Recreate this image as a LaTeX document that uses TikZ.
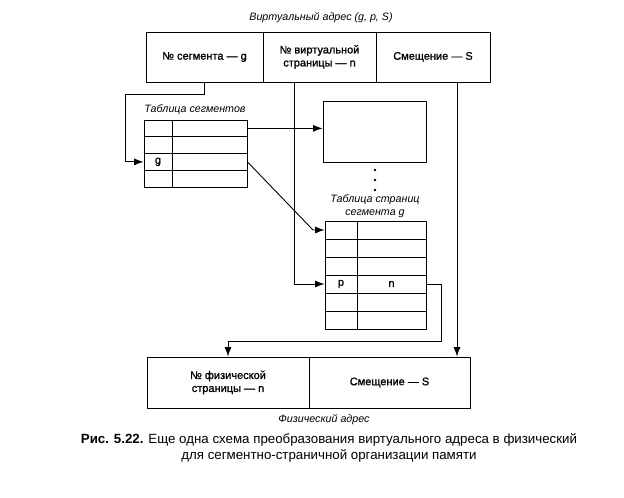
\documentclass[tikz,border=0pt]{standalone}
\usepackage{fontspec}
\setmainfont{Liberation Sans}
\newfontfamily\medfont{Liberation Sans}[FakeBold=1.2]
\usetikzlibrary{arrows.meta}
\begin{document}
\begin{tikzpicture}[x=1pt,y=-1pt, line width=0.9pt,
  conn/.style={draw, -{Latex[length=9.5pt,width=7pt]}},
  lbl/.style={font=\fontsize{10.7}{12.5}\selectfont\itshape, align=center},
  txt/.style={font=\medfont\fontsize{11}{13}\selectfont, align=center},
  field/.style={draw, txt, inner sep=0pt, minimum height=50pt},
  cell/.style={draw, inner sep=0pt, font=\medfont\fontsize{11}{13}\selectfont},
  scell/.style={cell, minimum height=16.75pt},
  pcell/.style={cell, minimum height=18pt},
  dot/.style={fill, circle, inner sep=0pt, minimum size=2.8pt}]
\useasboundingbox (0,0) rectangle (624,498);

% virtual address
\node[lbl] (vtitle) at (321,18) {Виртуальный адрес (g, p, S)};
\node[field, minimum width=117pt] (vg) at (204.5,57) {№ сегмента — g};
\node[field, minimum width=113pt] (vp) at (319.5,57) {№ виртуальной\\страницы — n};
\node[field, minimum width=114pt] (vs) at (433,57) {Смещение — S};

% segment table
\node[lbl] (stitle) at (195,110) {Таблица сегментов};
\foreach \i/\t in {1/,2/,3/g,4/} {
  \node[scell, minimum width=28pt] (s\i a) at (158,{120+(\i-0.5)*16.75}) {\t};
  \node[scell, minimum width=75pt] (s\i b) at (209.5,{120+(\i-0.5)*16.75}) {};
}

% other page table
\node[draw, minimum width=103pt, minimum height=61pt, inner sep=0pt] (ptab) at (374.5,131.5) {};
\node[dot] (d1) at (375,170) {};
\node[dot] (d2) at (375,180) {};
\node[dot] (d3) at (375,190) {};

% page table of segment g
\node[lbl] (ptitle) at (375,206) {Таблица страниц\\сегмента g};
\foreach \i/\ta/\tb in {1//,2//,3//,4/p/n,5//,6//} {
  \node[pcell, minimum width=32pt] (p\i a) at (341,{221+(\i-0.5)*18}) {\ta};
  \node[pcell, minimum width=69pt] (p\i b) at (391.5,{221+(\i-0.5)*18}) {\tb};
}

% physical address
\node[field, minimum width=162pt, minimum height=51pt] (pn) at (228,382.5) {№ физической\\страницы — n};
\node[field, minimum width=161pt, minimum height=51pt] (ps) at (389.5,382.5) {Смещение — S};
\node[lbl] (ftitle) at (324,420) {Физический адрес};

% connectors
\draw[conn] (vg.south) -- ++(0,12) -- ++(-79.5,0) |- (s3a.west);
\draw[conn] (s1b.east) -- (ptab.west |- s1b.east);
\coordinate (mid) at (313,230);
\draw[conn] (s3b.east) -- (mid) -- (p1a.west);
\coordinate (pstart) at (294,82);
\draw[conn] (pstart) |- (p4a.west);
\draw[conn] (p4b.east) -- ++(15,0) -- ++(0,57) -| (pn.north);
\coordinate (sstart) at (457,82);
\draw[conn] (sstart) -- (sstart |- ps.north);

% caption
\node[font=\fontsize{13.3}{16}\selectfont, align=center] (cap) at (329,448)
  {\textbf{Рис. 5.22.} Еще одна схема преобразования виртуального адреса в физический\\
   для сегментно-страничной организации памяти};
\end{tikzpicture}
\end{document}
